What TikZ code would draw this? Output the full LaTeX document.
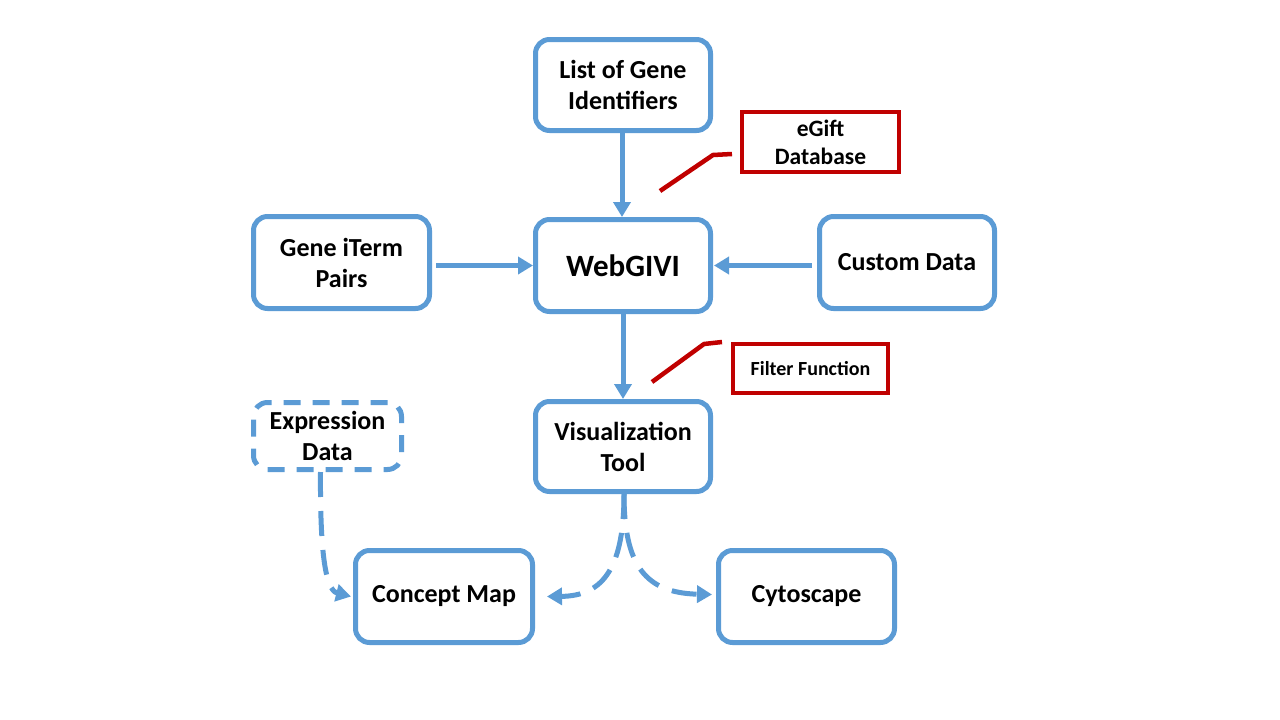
\documentclass[tikz,border=0pt]{standalone}
\usepackage{fontspec}
\setmainfont{Carlito}
\usetikzlibrary{arrows.meta}
\definecolor{bl}{HTML}{5B9BD5}
\definecolor{rd}{HTML}{C00000}
\tikzset{
  box/.style={draw=bl, line width=5pt, rounded corners=14pt, align=center,
    font=\fontsize{26}{31}\selectfont\bfseries, inner sep=0pt},
  dbox/.style={box, dash pattern=on 17pt off 12pt},
  rbox/.style={draw=rd, line width=4.5pt, align=center,
    font=\fontsize{20}{27}\selectfont\bfseries, inner sep=0pt},
  conn/.style={draw=bl, line width=5pt, -{Triangle[length=15pt,width=17pt]}},
  dconn/.style={conn, dash pattern=on 25pt off 14pt},
  call/.style={draw=rd, line width=4.5pt}
}
\begin{document}
\begin{tikzpicture}[x=1pt,y=-1pt]
\useasboundingbox (0,0) rectangle (1280,720);
\node[box, minimum width=175pt, minimum height=91pt] (list) at (623,85) {List of Gene\\Identifiers};
\node[rbox, minimum width=157pt, minimum height=60pt, font=\fontsize{23.5}{28}\selectfont\bfseries] (egift) at (820.5,142) {eGift\\Database};
\node[box, minimum width=176pt, minimum height=92pt] (gene) at (341.5,262.5) {Gene iTerm\\Pairs};
\node[box, minimum width=175pt, minimum height=92pt, font=\fontsize{31}{37}\selectfont\bfseries] (web) at (623,265.5) {WebGIVI};
\node[box, minimum width=175pt, minimum height=92pt] (custom) at (907,262.5) {Custom Data};
\node[rbox, minimum width=155pt, minimum height=49pt] (filter) at (810.5,368.5) {Filter Function};
\node[box, minimum width=175pt, minimum height=90pt] (vis) at (623,446.5) {Visualization\\Tool};
\node[dbox, minimum width=148pt, minimum height=67pt] (expr) at (327.5,436) {Expression\\Data};
\node[box, minimum width=177pt, minimum height=92pt] (concept) at (444,596.5) {Concept Map};
\node[box, minimum width=176pt, minimum height=92pt] (cyto) at (806.5,596.5) {Cytoscape};

\coordinate (e1) at (660,191);
\coordinate (e2) at (713,155);
\coordinate (e3) at (732,154);
\coordinate (f1) at (652,382);
\coordinate (f2) at (704,344);
\coordinate (f3) at (722,342);

\draw[conn] ([xshift=-1pt]list.south) -- ([xshift=-1pt]web.north);
\draw[conn] ([xshift=4pt]gene.east |- web.west) -- (web.west);
\draw[conn] ([xshift=-5pt]custom.west |- web.east) -- ([xshift=1pt]web.east);
\draw[conn] (web.south) -- (vis.north);

\draw[call] (e1) -- (e2) -- (e3);
\draw[call] (f1) -- (f2) -- (f3);

\draw[dconn] ([xshift=1pt]vis.south) .. controls (624,565) and (605,596) .. ([xshift=12pt]concept.east);
\draw[dconn] ([xshift=1pt]vis.south) .. controls (624,565) and (645,593) .. ([xshift=-4pt,yshift=2pt]cyto.west);
\draw[dconn] ([xshift=-7pt]expr.south) .. controls (320,550) and (325,590) .. ([xshift=-2pt]concept.west);
\end{tikzpicture}
\end{document}
